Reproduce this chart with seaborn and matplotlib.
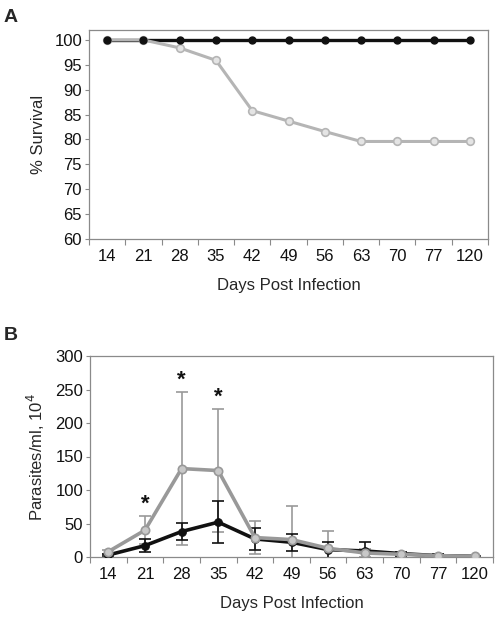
import numpy as np
import pandas as pd
import matplotlib
matplotlib.use("Agg")
import matplotlib.pyplot as plt
import seaborn as sns

days = ["14", "21", "28", "35", "42", "49", "56", "63", "70", "77", "120"]

# Panel A: % survival
surv_black = [100, 100, 100, 100, 100, 100, 100, 100, 100, 100, 100]
surv_grey = [100, 100, 98.4, 95.9, 85.8, 83.7, 81.6, 79.6, 79.6, 79.6, 79.6]

# Panel B: parasites/ml (x10^4), mean and error
para_grey = [8, 40, 132, 129, 29, 26, 13, 6, 4, 2, 1]
para_grey_err = [3, 21, 114, 92, 25, 50, 26, 6, 3, 2, 0.5]
para_black = [3, 17, 38, 52, 27, 22, 11, 9, 5, 2, 1]
para_black_err = [2, 10, 12.5, 31, 17, 13, 12, 14, 3, 3, 0.5]
star_days = ["21", "28", "35"]

sns.set_theme(style="white")
plt.rcParams["font.family"] = ["Liberation Sans", "DejaVu Sans"]

BLACK = "#111111"
GREY_A = "#b5b5b5"
GREY_B = "#999999"
SPINE = "#8a8a8a"
FS = 12

fig = plt.figure(figsize=(5.0, 6.18), dpi=100)
axA = fig.add_axes([0.178, 1 - 239 / 618, 0.798, (239 - 30) / 618])
axB = fig.add_axes([0.180, 1 - 557 / 618, 0.806, (557 - 356) / 618])

dfA = pd.DataFrame({"day": days, "black": surv_black, "grey": surv_grey})
dfB = pd.DataFrame({"day": days, "black": para_black, "grey": para_grey,
                    "black_err": para_black_err, "grey_err": para_grey_err})

# ---- Panel A ----
sns.lineplot(data=dfA, x="day", y="black", ax=axA, color=BLACK, lw=2.4,
             marker=None, zorder=2, sort=False)
sns.lineplot(data=dfA, x="day", y="grey", ax=axA, color=GREY_A, lw=2.2,
             marker="o", markersize=5.5, markerfacecolor="#e4e4e4",
             markeredgecolor=GREY_A, markeredgewidth=1.2, zorder=3, sort=False)
axA.plot(dfA["day"], dfA["black"], ls="none", marker="o", markersize=5,
         color=BLACK, zorder=4)
axA.set_ylim(60, 102)
axA.set_yticks(np.arange(60, 101, 5))
axA.set_ylabel("% Survival", fontsize=FS, labelpad=6)

# ---- Panel B ----
x_pos = np.arange(len(days))
axB.errorbar(x_pos, dfB["grey"], yerr=dfB["grey_err"], fmt="none",
             ecolor=GREY_B, elinewidth=1.2, capsize=4.5, capthick=1.2, zorder=2)
axB.errorbar(x_pos, dfB["black"], yerr=dfB["black_err"], fmt="none",
             ecolor=BLACK, elinewidth=1.2, capsize=4.5, capthick=1.2, zorder=2)
sns.lineplot(data=dfB, x="day", y="black", ax=axB, color=BLACK, lw=2.6,
             marker="o", markersize=5.5, markeredgecolor=BLACK, zorder=3, sort=False)
sns.lineplot(data=dfB, x="day", y="grey", ax=axB, color=GREY_B, lw=2.6,
             marker="o", markersize=6, markerfacecolor="#c8c8c8",
             markeredgecolor=GREY_B, markeredgewidth=1.2, zorder=4, sort=False)
for d in star_days:
    i = days.index(d)
    top = para_grey[i] + para_grey_err[i]
    axB.annotate("*", xy=(i, top), xytext=(0, 1), textcoords="offset points",
                 ha="center", va="bottom", fontsize=16, fontweight="bold",
                 color=BLACK)
axB.set_ylim(0, 300)
axB.set_yticks(np.arange(0, 301, 50))
axB.set_ylabel("Parasites/ml, 10$^4$", fontsize=FS, labelpad=6)

for ax in (axA, axB):
    ax.set_xlim(-0.5, len(days) - 0.5)
    ax.set_xticks(x_pos)
    ax.set_xticklabels(days)
    ax.set_xticks(np.arange(-0.5, len(days), 1.0), minor=True)
    ax.tick_params(axis="x", which="major", length=0, pad=7, labelsize=FS,
                   colors="#111111")
    ax.tick_params(axis="x", which="minor", length=4, width=0.8,
                   direction="out", color=SPINE, bottom=True)
    ax.tick_params(axis="y", which="major", length=3, width=0.8,
                   direction="out", color=SPINE, left=True, pad=2,
                   labelsize=FS, labelcolor="#111111")
    ax.set_xlabel("Days Post Infection", fontsize=FS, labelpad=10)
    for s in ax.spines.values():
        s.set_color(SPINE)
        s.set_linewidth(0.9)
    ax.grid(False)

fig.text(0.008, 1 - 17 / 618, "A", fontsize=14, fontweight="bold",
         va="center", ha="left")
fig.text(0.008, 1 - 336 / 618, "B", fontsize=14, fontweight="bold",
         va="center", ha="left")

fig.savefig("out.png", dpi=100)
